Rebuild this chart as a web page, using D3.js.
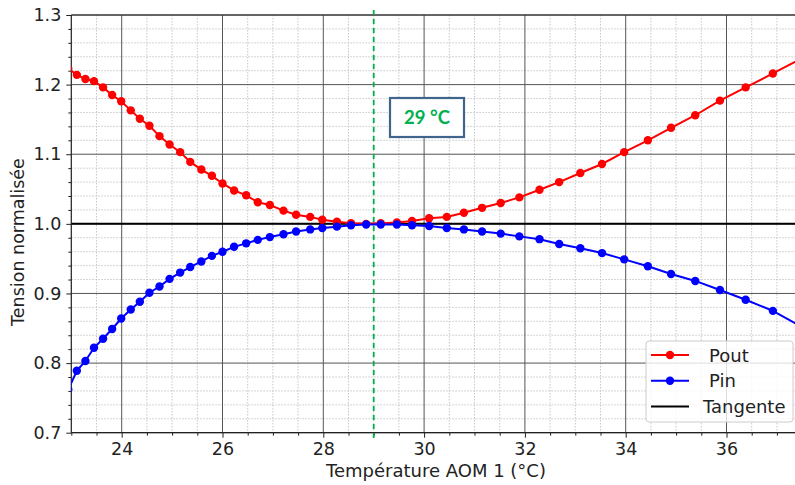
<!DOCTYPE html>
<html><head><meta charset="utf-8">
<script src="https://cdn.jsdelivr.net/npm/d3@7"></script>
<style>body{margin:0;background:#fff}svg{display:block}</style>
</head><body>
<svg id="c" width="795" height="485"></svg>
<script>
const temperature = [22.94,23.11,23.28,23.45,23.63,23.81,23.99,24.18,24.36,24.55,24.75,24.95,25.16,25.36,25.58,25.79,26.00,26.23,26.47,26.70,26.94,27.21,27.46,27.74,27.98,28.27,28.55,28.85,29.14,29.46,29.76,30.10,30.45,30.79,31.15,31.52,31.89,32.29,32.68,33.10,33.53,33.97,34.44,34.90,35.38,35.87,36.38,36.92,37.47];
const pout = [1.223,1.214,1.208,1.205,1.196,1.185,1.176,1.163,1.151,1.141,1.126,1.114,1.103,1.089,1.078,1.069,1.058,1.048,1.041,1.031,1.027,1.019,1.013,1.010,1.006,1.003,1.001,1.000,1.001,1.002,1.004,1.008,1.010,1.016,1.023,1.030,1.038,1.049,1.060,1.073,1.086,1.103,1.120,1.138,1.156,1.177,1.196,1.216,1.237];
const pin = [0.762,0.789,0.803,0.822,0.835,0.849,0.864,0.877,0.888,0.901,0.910,0.921,0.930,0.938,0.946,0.954,0.960,0.967,0.972,0.977,0.981,0.985,0.989,0.992,0.994,0.996,0.998,0.999,0.999,0.999,0.998,0.997,0.994,0.992,0.989,0.986,0.982,0.978,0.971,0.965,0.958,0.949,0.939,0.928,0.918,0.905,0.891,0.875,0.853];
const tangente = 1.0;
const markTemp = 29;
const markLabel = "29 °C";
const xTicks = [24,26,28,30,32,34,36];
const yTicks = [0.7,0.8,0.9,1.0,1.1,1.2,1.3];
const seriesNames = [" Pout"," Pin","Tangente"];
const xTitle = "Température AOM 1 (°C)";
const yTitle = "Tension normalisée";

const svg = d3.select("#c");
const L = 71.3, T = 15, B = 432.7, R = 802.1;
const x = d3.scaleLinear().domain([23, 37.5]).range([L, R]);
const y = d3.scaleLinear().domain([0.7, 1.3]).range([B, T]);
const font = "DejaVu Sans, sans-serif";

svg.append("defs").append("clipPath").attr("id","clip")
  .append("rect").attr("x",L).attr("y",T).attr("width",R-L).attr("height",B-T);

const xMinor = d3.range(23, 37.51, 0.5).filter(v => !xTicks.some(t => Math.abs(t-v)<1e-6));
const yMinor = d3.range(0.7, 1.3001, 0.02).filter(v => !yTicks.some(t => Math.abs(t-v)<1e-6));

const g = svg.append("g");
g.selectAll(".mx").data(xMinor).join("line")
  .attr("x1",d=>x(d)).attr("x2",d=>x(d)).attr("y1",T).attr("y2",B)
  .attr("stroke","#bbb").attr("stroke-width",1).attr("stroke-dasharray","1.5,1.5").attr("opacity",0.8);
g.selectAll(".my").data(yMinor).join("line")
  .attr("x1",L).attr("x2",R).attr("y1",d=>y(d)).attr("y2",d=>y(d))
  .attr("stroke","#bbb").attr("stroke-width",1).attr("stroke-dasharray","1.5,1.5").attr("opacity",0.8);
g.selectAll(".Mx").data(xTicks).join("line")
  .attr("x1",d=>x(d)).attr("x2",d=>x(d)).attr("y1",T).attr("y2",B)
  .attr("stroke","#555").attr("stroke-width",1);
g.selectAll(".My").data(yTicks).join("line")
  .attr("x1",L).attr("x2",R).attr("y1",d=>y(d)).attr("y2",d=>y(d))
  .attr("stroke","#555").attr("stroke-width",1);

const xAx = svg.append("g").attr("transform",`translate(0,${B})`)
  .call(d3.axisBottom(x).tickValues(xTicks).tickFormat(d3.format("d")).tickSize(5).tickPadding(5));
const xAxMinor = svg.append("g").attr("transform",`translate(0,${B})`)
  .call(d3.axisBottom(x).tickValues(xMinor).tickFormat("").tickSize(3));
const yAx = svg.append("g").attr("transform",`translate(${L},0)`)
  .call(d3.axisLeft(y).tickValues(yTicks).tickFormat(d3.format(".1f")).tickSize(5).tickPadding(5));
const yAxMinor = svg.append("g").attr("transform",`translate(${L},0)`)
  .call(d3.axisLeft(y).tickValues(yMinor).tickFormat("").tickSize(3));
[xAx,xAxMinor,yAx,yAxMinor].forEach(a=>{
  a.select(".domain").remove();
  a.selectAll("line").attr("stroke","#222");
  a.selectAll("text").attr("font-family",font).attr("font-size",17.5).attr("fill","#222");
});
svg.append("line").attr("x1",L).attr("x2",R).attr("y1",T).attr("y2",T).attr("stroke","#222").attr("stroke-width",1.2);
svg.append("line").attr("x1",L).attr("x2",R).attr("y1",B).attr("y2",B).attr("stroke","#222").attr("stroke-width",1.2);
svg.append("line").attr("x1",L).attr("x2",L).attr("y1",T).attr("y2",B).attr("stroke","#222").attr("stroke-width",1.2);

const plot = svg.append("g").attr("clip-path","url(#clip)");
const line = d3.line().x(d=>x(d[0])).y(d=>y(d[1]));
const series = [
  {name:seriesNames[0], color:"#ff0000", vals:pout},
  {name:seriesNames[1], color:"#0000ff", vals:pin}
];
plot.append("line").attr("x1",L).attr("x2",R).attr("y1",y(tangente)).attr("y2",y(tangente))
  .attr("stroke","#000").attr("stroke-width",2);
series.forEach(s=>{
  const pts = temperature.map((t,i)=>[t,s.vals[i]]);
  plot.append("path").datum(pts).attr("d",line).attr("fill","none").attr("stroke",s.color).attr("stroke-width",2);
  plot.selectAll(null).data(pts).join("circle")
    .attr("cx",d=>x(d[0])).attr("cy",d=>y(d[1])).attr("r",4.2).attr("fill",s.color);
});

svg.append("text").attr("x",436).attr("y",477).attr("text-anchor","middle")
  .attr("font-family",font).attr("font-size",18).attr("fill","#222").text(xTitle);
svg.append("text").attr("transform","translate(24,242) rotate(-90)").attr("text-anchor","middle")
  .attr("font-family",font).attr("font-size",17.5).attr("fill","#222").text(yTitle);

svg.append("line").attr("x1",x(markTemp)).attr("x2",x(markTemp)).attr("y1",10).attr("y2",438)
  .attr("stroke","#00b050").attr("stroke-width",1.8).attr("stroke-dasharray","5,4");
svg.append("rect").attr("x",390).attr("y",98).attr("width",74).attr("height",39)
  .attr("fill","#fff").attr("stroke","#41648c").attr("stroke-width",2.2);
svg.append("text").attr("x",427).attr("y",124).attr("text-anchor","middle")
  .attr("font-family","Lato, 'Open Sans', sans-serif").attr("font-weight","bold").attr("font-size",18.5)
  .attr("fill","#00b050").text(markLabel);

const lg = svg.append("g");
lg.append("rect").attr("x",646).attr("y",341).attr("width",147).attr("height",81).attr("rx",3)
  .attr("fill","#fff").attr("fill-opacity",0.8).attr("stroke","#ccc").attr("stroke-width",1);
const legItems = [
  {name:seriesNames[0], color:"#ff0000", marker:true},
  {name:seriesNames[1], color:"#0000ff", marker:true},
  {name:seriesNames[2], color:"#000000", marker:false}
];
legItems.forEach((it,i)=>{
  const yy = 355 + i*25.8;
  lg.append("line").attr("x1",651).attr("x2",689).attr("y1",yy).attr("y2",yy).attr("stroke",it.color).attr("stroke-width",2);
  if(it.marker) lg.append("circle").attr("cx",670).attr("cy",yy).attr("r",4.2).attr("fill",it.color);
  lg.append("text").attr("x",it.name.startsWith(" ")?709:703).attr("y",yy+6.5).attr("font-family",font).attr("font-size",18)
    .attr("fill","#222").text(it.name.trim());
});
</script>
</body></html>
